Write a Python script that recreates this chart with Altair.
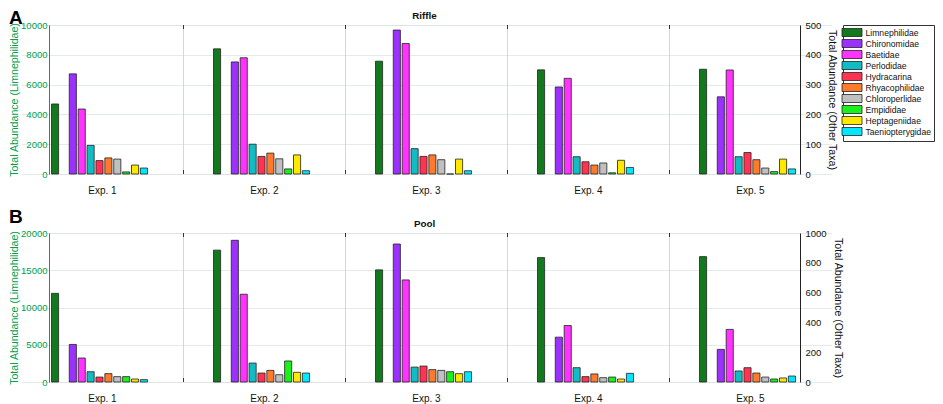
import altair as alt
import pandas as pd

EXPERIMENTS = ["Exp. 1", "Exp. 2", "Exp. 3", "Exp. 4", "Exp. 5"]
TAXA = ["Limnephilidae", "Chironomidae", "Baetidae", "Perlodidae", "Hydracarina",
        "Rhyacophilidae", "Chloroperlidae", "Empididae", "Heptageniidae", "Taeniopterygidae"]
COLORS = ["#127a1c", "#9b30ff", "#ff33ff", "#12bcc4", "#ff3352",
          "#ff7a2a", "#c0c0c0", "#1cf01c", "#ffe800", "#00e8ff"]

# Riffle (Limnephilidae on left axis, other taxa on right axis)
riffle_limnephilidae = [4700, 8400, 7570, 6990, 7030]
riffle_chironomidae = [336, 376, 483, 292, 259]
riffle_baetidae = [218, 390, 438, 321, 349]
riffle_perlodidae = [96, 100, 85, 58, 58]
riffle_hydracarina = [45, 59, 59, 41, 72]
riffle_rhyacophilidae = [54, 70, 64, 30, 48]
riffle_chloroperlidae = [50, 51, 48, 37, 20]
riffle_empididae = [7, 17, 0, 4, 8]
riffle_heptageniidae = [30, 64, 50, 46, 50]
riffle_taeniopterygidae = [20, 11, 11, 22, 17]

# Pool
pool_limnephilidae = [11900, 17700, 15050, 16700, 16830]
pool_chironomidae = [252, 951, 926, 301, 219]
pool_baetidae = [161, 589, 685, 379, 353]
pool_perlodidae = [69, 127, 100, 96, 74]
pool_hydracarina = [33, 60, 107, 36, 96]
pool_rhyacophilidae = [56, 78, 83, 54, 60]
pool_chloroperlidae = [36, 49, 78, 29, 33]
pool_empididae = [36, 141, 69, 33, 20]
pool_heptageniidae = [20, 65, 56, 20, 27]
pool_taeniopterygidae = [16, 60, 69, 58, 40]

riffle_left_ticks = [0, 2000, 4000, 6000, 8000, 10000]
riffle_right_ticks = [0, 100, 200, 300, 400, 500]
pool_left_ticks = [0, 5000, 10000, 15000, 20000]
pool_right_ticks = [0, 200, 400, 600, 800, 1000]

RIFFLE = [riffle_limnephilidae, riffle_chironomidae, riffle_baetidae, riffle_perlodidae,
          riffle_hydracarina, riffle_rhyacophilidae, riffle_chloroperlidae, riffle_empididae,
          riffle_heptageniidae, riffle_taeniopterygidae]
POOL = [pool_limnephilidae, pool_chironomidae, pool_baetidae, pool_perlodidae,
        pool_hydracarina, pool_rhyacophilidae, pool_chloroperlidae, pool_empididae,
        pool_heptageniidae, pool_taeniopterygidae]

FONT = "Liberation Sans"
GREEN = "#00a050"
W, H = 751, 149
SLOTS = [TAXA[0], " "] + TAXA[1:]


def long_frame(series):
    rows = []
    for taxon, values in zip(TAXA, series):
        for exp, v in zip(EXPERIMENTS, values):
            rows.append({"Experiment": exp, "Taxon": taxon, "Abundance": v})
    return pd.DataFrame(rows)


def panel(series, name, letter, left_ticks, right_ticks, legend, letter_y):
    df = long_frame(series)
    xscale = alt.Scale(domain=EXPERIMENTS, range=[-27.5, 782.5], paddingInner=0, paddingOuter=0)
    xaxis = alt.Axis(title=None, labelAngle=0, ticks=False, domain=False, grid=False,
                     labelPadding=11, labelFontSize=10, labelColor="#111", labelFont=FONT)
    x = alt.X("Experiment:N", scale=xscale, axis=xaxis)
    xo = alt.XOffset("Taxon:N", scale=alt.Scale(domain=SLOTS, range=[30, 126],
                                                paddingInner=0.2, paddingOuter=0))
    color = alt.Color("Taxon:N", scale=alt.Scale(domain=TAXA, range=COLORS), legend=legend)

    bar_style = dict(stroke="#222222", strokeWidth=0.8)
    left = alt.Chart(df).transform_filter(alt.datum.Taxon == TAXA[0]).mark_bar(**bar_style).encode(
        x=x, xOffset=xo, color=color,
        y=alt.Y("Abundance:Q",
                scale=alt.Scale(domain=[left_ticks[0], left_ticks[-1]], nice=False),
                axis=alt.Axis(title="Total Abundance (Limnephilidae)", values=left_ticks,
                              format="d", orient="left", grid=True, gridColor="#dce6e6",
                              gridWidth=0.8, labelColor=GREEN, titleColor=GREEN,
                              domainColor=GREEN, tickColor=GREEN, tickSize=0,
                              labelPadding=2, titlePadding=1,
                              labelFontSize=9.5, titleFontSize=10.6, titleFontWeight="normal",
                              labelFont=FONT, titleFont=FONT)))
    right = alt.Chart(df).transform_filter(alt.datum.Taxon != TAXA[0]).mark_bar(**bar_style).encode(
        x=x, xOffset=xo, color=color,
        y=alt.Y("Abundance:Q",
                scale=alt.Scale(domain=[right_ticks[0], right_ticks[-1]], nice=False),
                axis=alt.Axis(title="Total Abundance (Other Taxa)", values=right_ticks,
                              format="d", orient="right", grid=False,
                              labelColor="#111", titleColor="#111", domainColor="#222",
                              tickSize=0, labelPadding=5, titlePadding=6,
                              labelFontSize=9.5, titleFontSize=10.6, titleFontWeight="normal",
                              labelFont=FONT, titleFont=FONT)))

    seps_df = pd.DataFrame({"Experiment": EXPERIMENTS[1:]})
    xsep = alt.X("Experiment:N", scale=xscale, bandPosition=0, axis=xaxis)
    seps = alt.Chart(seps_df).mark_rule(color="#cccccc", strokeWidth=0.8).encode(x=xsep)
    ticks_bottom = alt.Chart(seps_df).mark_rule(color="#333333", strokeWidth=1).encode(
        x=xsep, y=alt.value(H - 4), y2=alt.value(H))
    ticks_top = alt.Chart(seps_df).mark_rule(color="#333333", strokeWidth=1).encode(
        x=xsep, y=alt.value(0), y2=alt.value(4))

    name_df = pd.DataFrame({"label": [name]})
    title = alt.Chart(name_df).mark_text(font=FONT, fontSize=9.8, fontWeight="bold",
                                         align="center", baseline="alphabetic",
                                         color="#111").encode(
        text="label:N", x=alt.value(W / 2), y=alt.value(-6))
    letter_df = pd.DataFrame({"label": [letter]})
    letter_mark = alt.Chart(letter_df).mark_text(font=FONT, fontSize=19, fontWeight="bold",
                                                 align="left", baseline="alphabetic",
                                                 color="#000").encode(
        text="label:N", x=alt.value(-40), y=alt.value(letter_y))

    return alt.layer(left, right, seps, ticks_bottom, ticks_top, title, letter_mark).resolve_scale(
        y="independent").properties(width=W, height=H)


legend = alt.Legend(title=None, orient="right", offset=6,
                    symbolType="M-2.5,-1H2.5V1H-2.5Z", symbolSize=64, symbolOffset=1.5,
                    symbolStrokeColor="#222", symbolStrokeWidth=0.8, symbolOpacity=1,
                    labelFontSize=8.6, labelFont=FONT, labelColor="#111",
                    rowPadding=-2.3, padding=3, strokeColor="#333", fillColor="white",
                    labelOffset=9, cornerRadius=0)

top = panel(RIFFLE, "Riffle", "A", riffle_left_ticks, riffle_right_ticks, legend, -1)
bottom = panel(POOL, "Pool", "B", pool_left_ticks, pool_right_ticks, None, -10)

chart = alt.vconcat(top, bottom, spacing=11, padding=0).resolve_scale(
    color="independent").configure_view(stroke="#444", strokeWidth=1).configure(
    background="white")

chart.save("out.html", embed_options={"renderer": "svg", "actions": False})
